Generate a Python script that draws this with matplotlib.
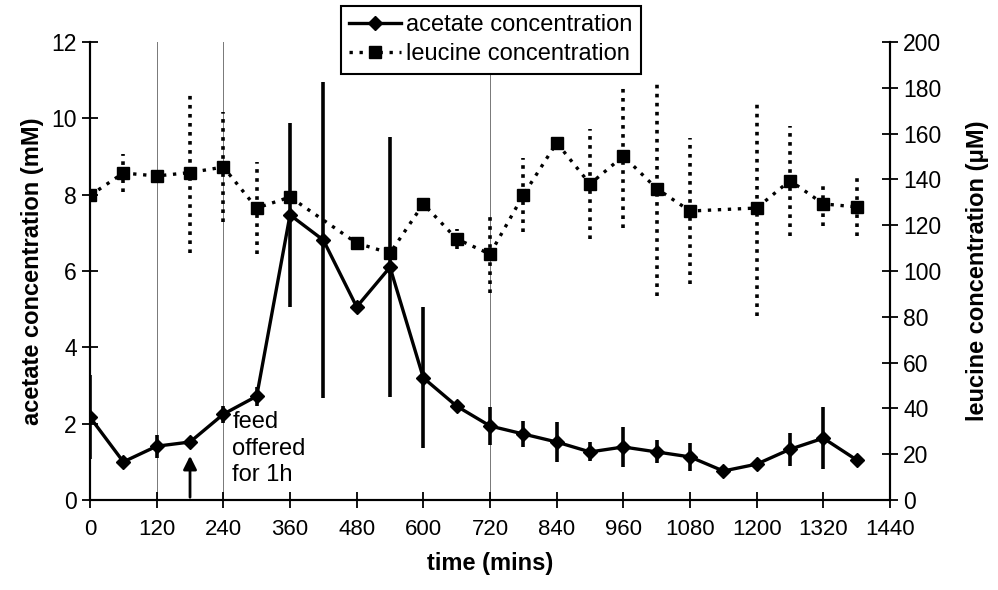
import matplotlib
matplotlib.use("Agg")
import matplotlib.pyplot as plt
from matplotlib.lines import Line2D

plt.rcParams['font.family'] = ['Liberation Sans', 'DejaVu Sans']

time = [0, 60, 120, 180, 240, 300, 360, 420, 480, 540, 600, 660, 720, 780, 840,
        900, 960, 1020, 1080, 1140, 1200, 1260, 1320, 1380]
acetate = [2.17, 1.0, 1.41, 1.52, 2.25, 2.72, 7.47, 6.81, 5.06, 6.1, 3.2, 2.46,
           1.94, 1.73, 1.52, 1.26, 1.39, 1.26, 1.13, 0.76, 0.94, 1.33, 1.62, 1.05]
acetate_err = [1.1, 0, 0.3, 0, 0.22, 0.25, 2.4, 4.15, 0, 3.4, 1.85, 0, 0.5, 0.35,
               0.53, 0.25, 0.52, 0.3, 0.37, 0, 0, 0.43, 0.82, 0]

leu_time = [0, 60, 120, 180, 240, 300, 360, 480, 540, 600, 660, 720, 780, 840,
            900, 960, 1020, 1080, 1200, 1260, 1320, 1380]
leucine = [133, 142.8, 141.5, 143, 145.4, 127.5, 132.3, 112.2, 107.8, 129.3, 114,
           107.4, 133.2, 156, 138, 150.2, 136, 126.2, 127.5, 139.5, 129.3, 128]
leucine_err = [0, 8.5, 0, 35, 24, 20, 0, 0, 0, 0, 4.5, 17, 16, 0, 24, 31.5, 47,
               32, 47, 24, 9.5, 12.5]

x_ticks = list(range(0, 1441, 120))
left_ticks = list(range(0, 13, 2))
right_ticks = list(range(0, 201, 20))
grid_x = [120, 240, 720]

fig = plt.figure(figsize=(9.98, 5.9), dpi=100)
ax = fig.add_axes([0.0902, 0.1525, 0.8016, 0.7763])
ax2 = ax.twinx()

for gx in grid_x:
    ax.axvline(gx, color='#777777', lw=0.7, zorder=0)

# acetate
ax.errorbar(time, acetate, yerr=acetate_err, fmt='none', ecolor='black',
            elinewidth=2.6, capsize=0, zorder=3)
ax.plot(time, acetate, color='black', lw=2.4, marker='D', ms=7, zorder=4)

# leucine
eb = ax2.errorbar(leu_time, leucine, yerr=leucine_err, fmt='none', ecolor='black',
                  elinewidth=2.6, capsize=0, zorder=3)
for coll in eb[2]:
    coll.set_linestyle((0, (1, 1.5)))
ax2.plot(leu_time, leucine, color='black', lw=2.4, ls=(0, (1, 2)), marker='s',
         ms=9, zorder=4)

ax.set_xlim(0, 1440)
ax.set_ylim(0, 12)
ax2.set_ylim(0, 200)
ax.set_xticks(x_ticks)
ax.set_yticks(left_ticks)
ax2.set_yticks(right_ticks)

for a in (ax, ax2):
    a.spines['top'].set_visible(False)
    for s in a.spines.values():
        s.set_linewidth(1.5)
    a.tick_params(direction='inout', length=12, width=1.3, labelsize=16.5)
ax.tick_params(axis='x', pad=8, labelsize=16)

ax.set_xlabel('time (mins)', fontsize=17, fontweight='bold', labelpad=8)
ax.set_ylabel('acetate concentration (mM)', fontsize=17, fontweight='bold', labelpad=5)
ax2.set_ylabel('leucine concentration (\u03bcM)', fontsize=17, fontweight='bold',
               rotation=90, labelpad=18)

ax.text(256, 2.32, 'feed\noffered\nfor 1h', fontsize=17, ha='left', va='top',
        linespacing=1.25)
ax.annotate('', xy=(180, 1.23), xytext=(180, 0),
            arrowprops=dict(arrowstyle='-|>', color='black', lw=2,
                            mutation_scale=20))

handles = [Line2D([], [], color='black', lw=2.4, marker='D', ms=7),
           Line2D([], [], color='black', lw=2.4, ls=(0, (1, 2)), marker='s', ms=9)]
leg = fig.legend(handles, ['acetate concentration', 'leucine concentration'],
                 loc='upper center', bbox_to_anchor=(0.492, 0.99), fontsize=17,
                 frameon=True, fancybox=False, edgecolor='black', framealpha=1,
                 handlelength=2.2, borderpad=0.35, labelspacing=0.3,
                 handletextpad=0.2, borderaxespad=0)
leg.get_frame().set_linewidth(1.5)

fig.savefig('out.png', dpi=100)
